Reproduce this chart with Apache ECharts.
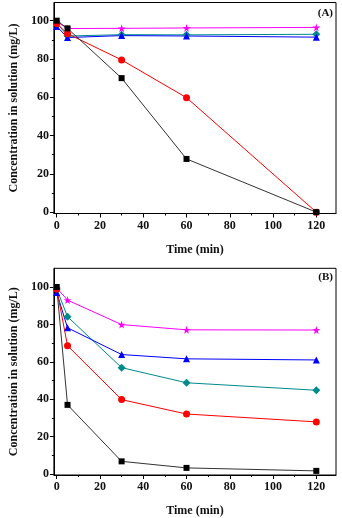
<!DOCTYPE html>
<html><head><meta charset="utf-8">
<script src="https://cdn.jsdelivr.net/npm/echarts@6/dist/echarts.min.js"></script>
<style>html,body{margin:0;padding:0;background:#fff}#c{width:342px;height:518px}</style>
</head><body><div id="c"></div>
<script>
const times = [0, 5, 30, 60, 120];
const xTickLabels = [0, 20, 40, 60, 80, 100, 120];
const xMinorTicks = [10, 30, 50, 70, 90, 110];
const yTickLabels = [0, 20, 40, 60, 80, 100];
const yMinorTicks = [10, 30, 50, 70, 90];

// Panel A
const aBlack   = [100, 96.0, 70.0, 27.8, 0];
const aRed     = [98.5, 93.2, 79.5, 59.8, 0];
const aBlue    = [97.0, 91.2, 92.2, 92.0, 91.4];
const aTeal    = [99.0, 92.0, 92.7, 92.6, 92.9];
const aMagenta = [99.5, 95.9, 96.0, 96.2, 96.5];
// Panel B
const bBlack   = [100, 37.0, 6.8, 3.3, 1.7];
const bRed     = [99.0, 68.6, 39.8, 32.1, 27.9];
const bBlue    = [97.0, 78.2, 63.9, 61.6, 61.0];
const bTeal    = [99.0, 84.1, 56.9, 48.8, 44.8];
const bMagenta = [99.5, 93.0, 79.9, 77.1, 77.0];

const STAR = 'path://M50,0 L61,35 L98,35 L68,57 L79,91 L50,70 L21,91 L32,57 L2,35 L39,35 Z';
const font = {fontFamily: 'Liberation Serif', fontWeight: 'bold', fontSize: 12, color: '#111'};

function pairs(v) { return times.map((t, i) => [t, v[i]]); }

const styles = [
  {color: '#000000', line: '#333333', symbol: 'rect', size: 6},
  {color: '#ff0000', line: '#ff0000', symbol: 'circle', size: 7},
  {color: '#0000ff', line: '#0000ff', symbol: 'triangle', size: 7},
  {color: '#008b8b', line: '#008b8b', symbol: 'diamond', size: 8},
  {color: '#ff00ff', line: '#ff00ff', symbol: STAR, size: 8}
];

function mkSeries(dataSets, axisIdx) {
  const order = [4, 3, 2, 1, 0];
  return order.map(k => ({
    type: 'line', xAxisIndex: axisIdx, yAxisIndex: axisIdx,
    data: pairs(dataSets[k]), symbol: styles[k].symbol, symbolSize: styles[k].size,
    showAllSymbol: true, animation: false,
    lineStyle: {color: styles[k].line, width: 1},
    itemStyle: {color: styles[k].color, borderWidth: 0}
  }));
}

const grids = [
  {left: 49.5, top: 2.5, width: 286.5, height: 211, show: true, borderColor: '#000', borderWidth: 1},
  {left: 49.5, top: 268.3, width: 286.5, height: 211, show: true, borderColor: '#000', borderWidth: 1}
];
const xMin = -1.3, xMax = 129.1;
const yRange = [[-0.7, 109.5], [-0.5, 110.0]];

const xAxes = [], yAxes = [];
[0, 1].forEach(g => {
  xAxes.push({
    type: 'value', gridIndex: g, min: xMin, max: xMax, position: 'bottom',
    name: 'Time (min)', nameLocation: 'middle', nameGap: 30,
    nameTextStyle: font,
    axisLine: {show: true, onZero: false, lineStyle: {color: '#000', width: 1}},
    axisTick: {show: true, inside: false, length: 4, customValues: xTickLabels, lineStyle: {color: '#000'}},
    axisLabel: {show: true, customValues: xTickLabels, margin: 6, ...font},
    splitLine: {show: false}
  });
  yAxes.push({
    type: 'value', gridIndex: g, min: yRange[g][0], max: yRange[g][1], position: 'left',
    name: 'Concentration in solution (mg/L)', nameLocation: 'middle', nameGap: 32,
    nameTextStyle: font,
    axisLine: {show: true, onZero: false, lineStyle: {color: '#000', width: 1}},
    axisTick: {show: true, inside: false, length: 4, customValues: yTickLabels, lineStyle: {color: '#000'}},
    axisLabel: {show: true, customValues: yTickLabels, margin: 5, ...font},
    splitLine: {show: false}
  });
});
[0, 1].forEach(g => {
  xAxes.push({
    type: 'value', gridIndex: g, min: xMin, max: xMax, position: 'bottom',
    axisLine: {show: false, onZero: false},
    axisTick: {show: true, inside: false, length: 2, customValues: xMinorTicks, lineStyle: {color: '#000'}},
    axisLabel: {show: false}, splitLine: {show: false}
  });
  yAxes.push({
    type: 'value', gridIndex: g, min: yRange[g][0], max: yRange[g][1], position: 'left',
    axisLine: {show: false, onZero: false},
    axisTick: {show: true, inside: false, length: 2, customValues: yMinorTicks, lineStyle: {color: '#000'}},
    axisLabel: {show: false}, splitLine: {show: false}
  });
});

const chart = echarts.init(document.getElementById('c'), null, {renderer: 'canvas'});
chart.setOption({
  backgroundColor: '#fff',
  animation: false,
  grid: grids,
  xAxis: xAxes,
  yAxis: yAxes,
  graphic: [
    {type: 'text', right: 9, top: 8, style: {text: '(A)', font: 'bold 11px "Liberation Serif"', fill: '#111'}},
    {type: 'text', right: 9, top: 272, style: {text: '(B)', font: 'bold 11px "Liberation Serif"', fill: '#111'}}
  ],
  series: [...mkSeries([aBlack, aRed, aBlue, aTeal, aMagenta], 0),
           ...mkSeries([bBlack, bRed, bBlue, bTeal, bMagenta], 1)]
});
</script></body></html>
